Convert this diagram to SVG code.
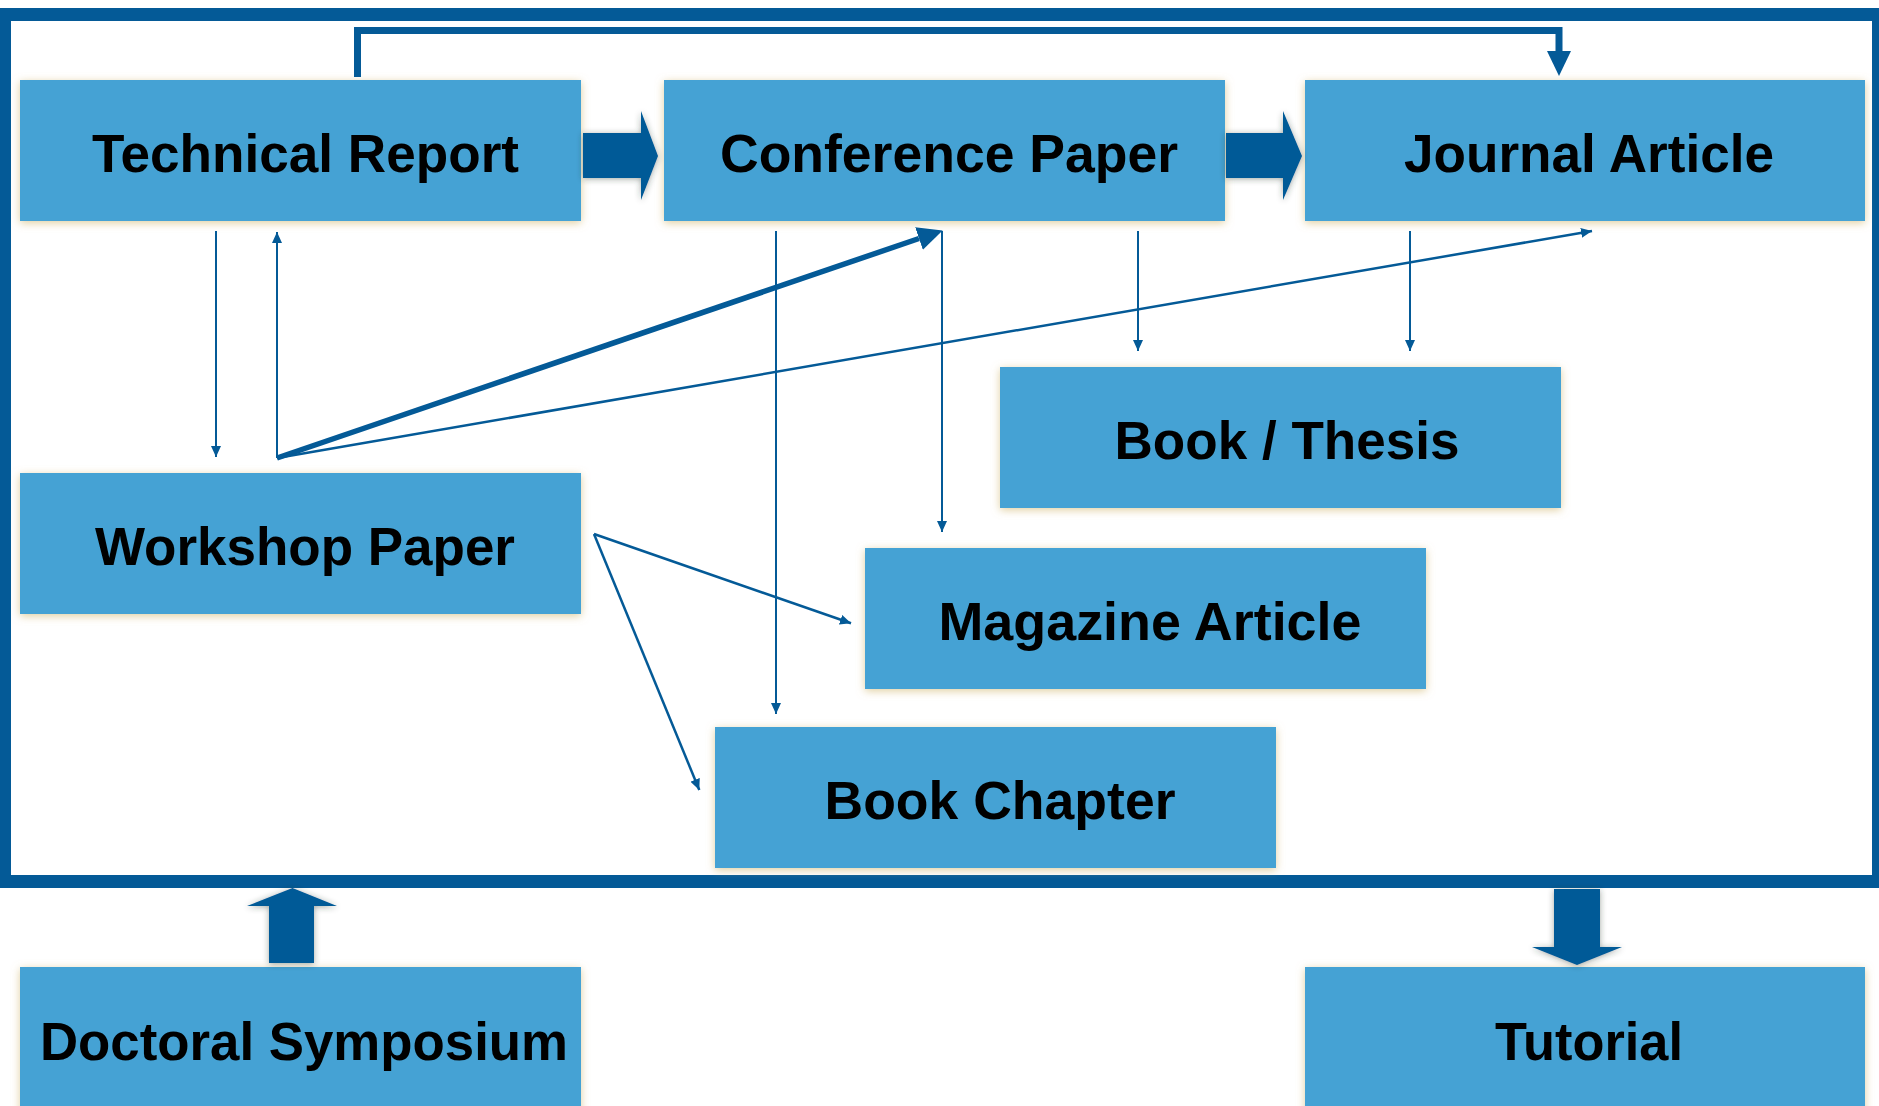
<svg xmlns="http://www.w3.org/2000/svg" width="1879" height="1106" viewBox="0 0 1879 1106">
  <style>
    .box { fill: #45A2D4; filter: url(#glow); }
    .lbl { font-family: "Liberation Sans", Arial, Helvetica, sans-serif; font-weight: bold; font-size: 54px; fill: #000; text-anchor: middle; }
    .thin { fill: none; stroke: #045A97; stroke-width: 2; marker-end: url(#headSmall); }
    .thinfan { fill: none; stroke: #045A97; stroke-width: 2.5; marker-end: url(#headSmall); }
    .block { fill: #045A97; filter: url(#dshadow); }
  </style>
  <defs>
    <filter id="glow" x="-10%" y="-20%" width="120%" height="140%">
      <feGaussianBlur in="SourceAlpha" stdDeviation="4"/>
      <feOffset dx="0" dy="2" result="b"/>
      <feFlood flood-color="#D6BE7E" flood-opacity="0.75"/>
      <feComposite in2="b" operator="in" result="s"/>
      <feMerge><feMergeNode in="s"/><feMergeNode in="SourceGraphic"/></feMerge>
    </filter>
    <filter id="dshadow" x="-30%" y="-30%" width="160%" height="160%">
      <feGaussianBlur in="SourceAlpha" stdDeviation="3"/>
      <feOffset dx="0" dy="1" result="b"/>
      <feFlood flood-color="#2A3A30" flood-opacity="0.45"/>
      <feComposite in2="b" operator="in" result="s"/>
      <feMerge><feMergeNode in="s"/><feMergeNode in="SourceGraphic"/></feMerge>
    </filter>
    <marker id="headSmall" markerUnits="userSpaceOnUse" markerWidth="12" markerHeight="10" refX="11" refY="5" orient="auto" viewBox="0 0 12 10">
      <path d="M0,0 L11,5 L0,10 z" fill="#045A97"/>
    </marker>
    <marker id="headBig" markerUnits="userSpaceOnUse" markerWidth="25" markerHeight="24" refX="0" refY="12" orient="auto" viewBox="0 0 25 24">
      <path d="M0,0 L25,12 L0,24 z" fill="#045A97"/>
    </marker>
  </defs>

  <rect width="1879" height="1106" fill="#FFFFFF"/>

  <g id="frame">
    <rect x="4.5" y="14.5" width="1874" height="867" fill="none" stroke="#045A97" stroke-width="13"/>
  </g>

  <g id="node-technical-report">
    <rect class="box" x="20" y="80" width="561" height="141"/>
    <text class="lbl" x="305.5" y="171.5" textLength="427" lengthAdjust="spacingAndGlyphs">Technical Report</text>
  </g>
  <g id="node-conference-paper">
    <rect class="box" x="664" y="80" width="561" height="141"/>
    <text class="lbl" x="949" y="171.5" textLength="458" lengthAdjust="spacingAndGlyphs">Conference Paper</text>
  </g>
  <g id="node-journal-article">
    <rect class="box" x="1305" y="80" width="560" height="141"/>
    <text class="lbl" x="1589" y="171.5" textLength="370" lengthAdjust="spacingAndGlyphs">Journal Article</text>
  </g>
  <g id="node-book-thesis">
    <rect class="box" x="1000" y="367" width="561" height="141"/>
    <text class="lbl" x="1287" y="458.5" textLength="345" lengthAdjust="spacingAndGlyphs">Book / Thesis</text>
  </g>
  <g id="node-workshop-paper">
    <rect class="box" x="20" y="473" width="561" height="141"/>
    <text class="lbl" x="305" y="564.5" textLength="420" lengthAdjust="spacingAndGlyphs">Workshop Paper</text>
  </g>
  <g id="node-magazine-article">
    <rect class="box" x="865" y="548" width="561" height="141"/>
    <text class="lbl" x="1150" y="639.5" textLength="423" lengthAdjust="spacingAndGlyphs">Magazine Article</text>
  </g>
  <g id="node-book-chapter">
    <rect class="box" x="715" y="727" width="561" height="141"/>
    <text class="lbl" x="1000" y="818.5" textLength="351" lengthAdjust="spacingAndGlyphs">Book Chapter</text>
  </g>
  <g id="node-doctoral-symposium">
    <rect class="box" x="20" y="967" width="561" height="160"/>
    <text class="lbl" x="304" y="1059.5" textLength="528" lengthAdjust="spacingAndGlyphs">Doctoral Symposium</text>
  </g>
  <g id="node-tutorial">
    <rect class="box" x="1305" y="967" width="560" height="160"/>
    <text class="lbl" x="1589" y="1059.5" textLength="188" lengthAdjust="spacingAndGlyphs">Tutorial</text>
  </g>

  <g id="connectors">
    <!-- block arrows -->
    <polygon class="block" points="583,133 641,133 641,111 658,156 641,200 641,178 583,178"/>
    <polygon class="block" points="1226,133 1283,133 1283,111 1302,156 1283,200 1283,178 1226,178"/>
    <polygon class="block" points="269,963 269,906 247,906 292.5,888 337,906 314,906 314,963"/>
    <polygon class="block" points="1554,889 1600,889 1600,947 1622,947 1577,965 1532,947 1554,947"/>

    <!-- top connector: Technical Report to Journal Article -->
    <path d="M357.5,77 L357.5,30.5 L1559,30.5 L1559,51" fill="none" stroke="#045A97" stroke-width="7" marker-end="url(#headBig)"/>

    <!-- Technical Report <-> Workshop Paper -->
    <line class="thin" x1="216" y1="231" x2="216" y2="457"/>
    <line class="thin" x1="277" y1="458" x2="277" y2="232"/>

    <!-- Workshop Paper fan -->
    <line x1="277" y1="458" x2="919" y2="238.5" stroke="#045A97" stroke-width="5.5" marker-end="url(#headBig)"/>
    <line class="thinfan" x1="277" y1="458" x2="1592" y2="231"/>

    <!-- Conference Paper downward -->
    <line class="thin" x1="776" y1="231" x2="776" y2="714"/>
    <line class="thin" x1="942" y1="231" x2="942" y2="532"/>
    <line class="thin" x1="1138" y1="231" x2="1138" y2="351"/>

    <!-- Journal Article downward -->
    <line class="thin" x1="1410" y1="231" x2="1410" y2="351"/>

    <!-- Workshop Paper to Magazine / Book Chapter -->
    <line class="thinfan" x1="594" y1="534" x2="851" y2="623.3"/>
    <line class="thinfan" x1="594" y1="534" x2="699.3" y2="790"/>
  </g>
</svg>
